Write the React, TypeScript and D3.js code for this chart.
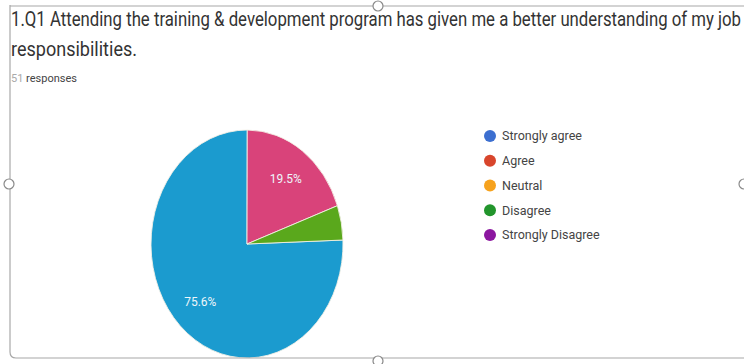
import React from "react";
import * as d3 from "d3";

const titleLine1 = "1.Q1 Attending the training & development program has given me a better understanding of my job";
const titleLine2 = "responsibilities.";
const responseCount = "51";
const categories = ["Strongly agree", "Agree", "Neutral", "Disagree", "Strongly Disagree"];
const values = [75.6, 19.5, 0, 4.9, 0];
const sliceColors = ["#1b9bcf", "#d9437a", "#f2a23a", "#5aa81c", "#8e16a0"];
const legendColors = ["#3c6fd0", "#d8452c", "#f6a21d", "#22952c", "#8c17a0"];

const W = 744;
const H = 364;

export default function App() {
  const cx = 247;
  const cy = 244;
  const rx = 96;
  const ry = 114;
  const sy = ry / rx;
  const start = (88 / 360) * 2 * Math.PI;
  const pie = d3
    .pie<number>()
    .sort(null)
    .value((d) => d)
    .startAngle(start)
    .endAngle(start + 2 * Math.PI);
  const arcs = pie(values);
  const arc = d3.arc<d3.PieArcDatum<number>>().innerRadius(0).outerRadius(rx);
  const labelArc = d3.arc<d3.PieArcDatum<number>>().innerRadius(rx * 0.7).outerRadius(rx * 0.7);
  const legendY = d3.scalePoint<string>().domain(categories).range([136, 235]);

  return (
    <svg
      width={W}
      height={H}
      style={{ position: "absolute", left: 0, top: 0, background: "#fff" }}
      fontFamily="Roboto, 'Liberation Sans', Arial, sans-serif"
    >
      <rect x={0} y={0} width={W} height={H} fill="#fff" />
      <g transform={`translate(${cx},${cy}) scale(1,${sy})`}>
        {arcs.map((a, i) =>
          a.value > 0 ? (
            <path key={i} d={arc(a) || ""} fill={sliceColors[i]} stroke="#f4f0e6" strokeWidth={0.8} />
          ) : null
        )}
      </g>
      {arcs.map((a, i) => {
        if (a.value < 5) return null;
        const [lx, ly] = labelArc.centroid(a);
        return (
          <text
            key={"l" + i}
            x={cx + lx}
            y={cy + ly * sy}
            dy="0.35em"
            textAnchor="middle"
            fontSize={12}
            fill="#eef6fa"
          >
            {a.value.toFixed(1)}%
          </text>
        );
      })}
      {categories.map((c, i) => (
        <g key={c} transform={`translate(0,${legendY(c)})`}>
          <circle cx={490} cy={0} r={6} fill={legendColors[i]} />
          <text x={502} y={0} dy="0.35em" fontSize={12.5} fill="#444">
            {c}
          </text>
        </g>
      ))}
      <text x={11} y={26} fontSize={20} fill="#333" textLength={730} lengthAdjust="spacingAndGlyphs">
        {titleLine1}
      </text>
      <text x={11} y={56} fontSize={20} fill="#333" textLength={126} lengthAdjust="spacingAndGlyphs">
        {titleLine2}
      </text>
      <text x={11} y={82} fontSize={11} fill="#444">
        <tspan fill="#aaa">{responseCount}</tspan> responses
      </text>
      {/* selection frame */}
      <g stroke="#a8a8a8" strokeWidth={1.2} fill="none">
        <line x1={10} y1={6} x2={W} y2={6} />
        <line x1={10} y1={5} x2={10} y2={352} />
        <path d="M10,352 Q10,358 16,358 L744,358" />
      </g>
      <g fill="#fff" stroke="#8a8a8a" strokeWidth={1.2}>
        <circle cx={378} cy={6} r={5} />
        <circle cx={9} cy={184} r={5} />
        <circle cx={744} cy={184} r={5} />
        <circle cx={378} cy={361} r={5} />
      </g>
    </svg>
  );
}
